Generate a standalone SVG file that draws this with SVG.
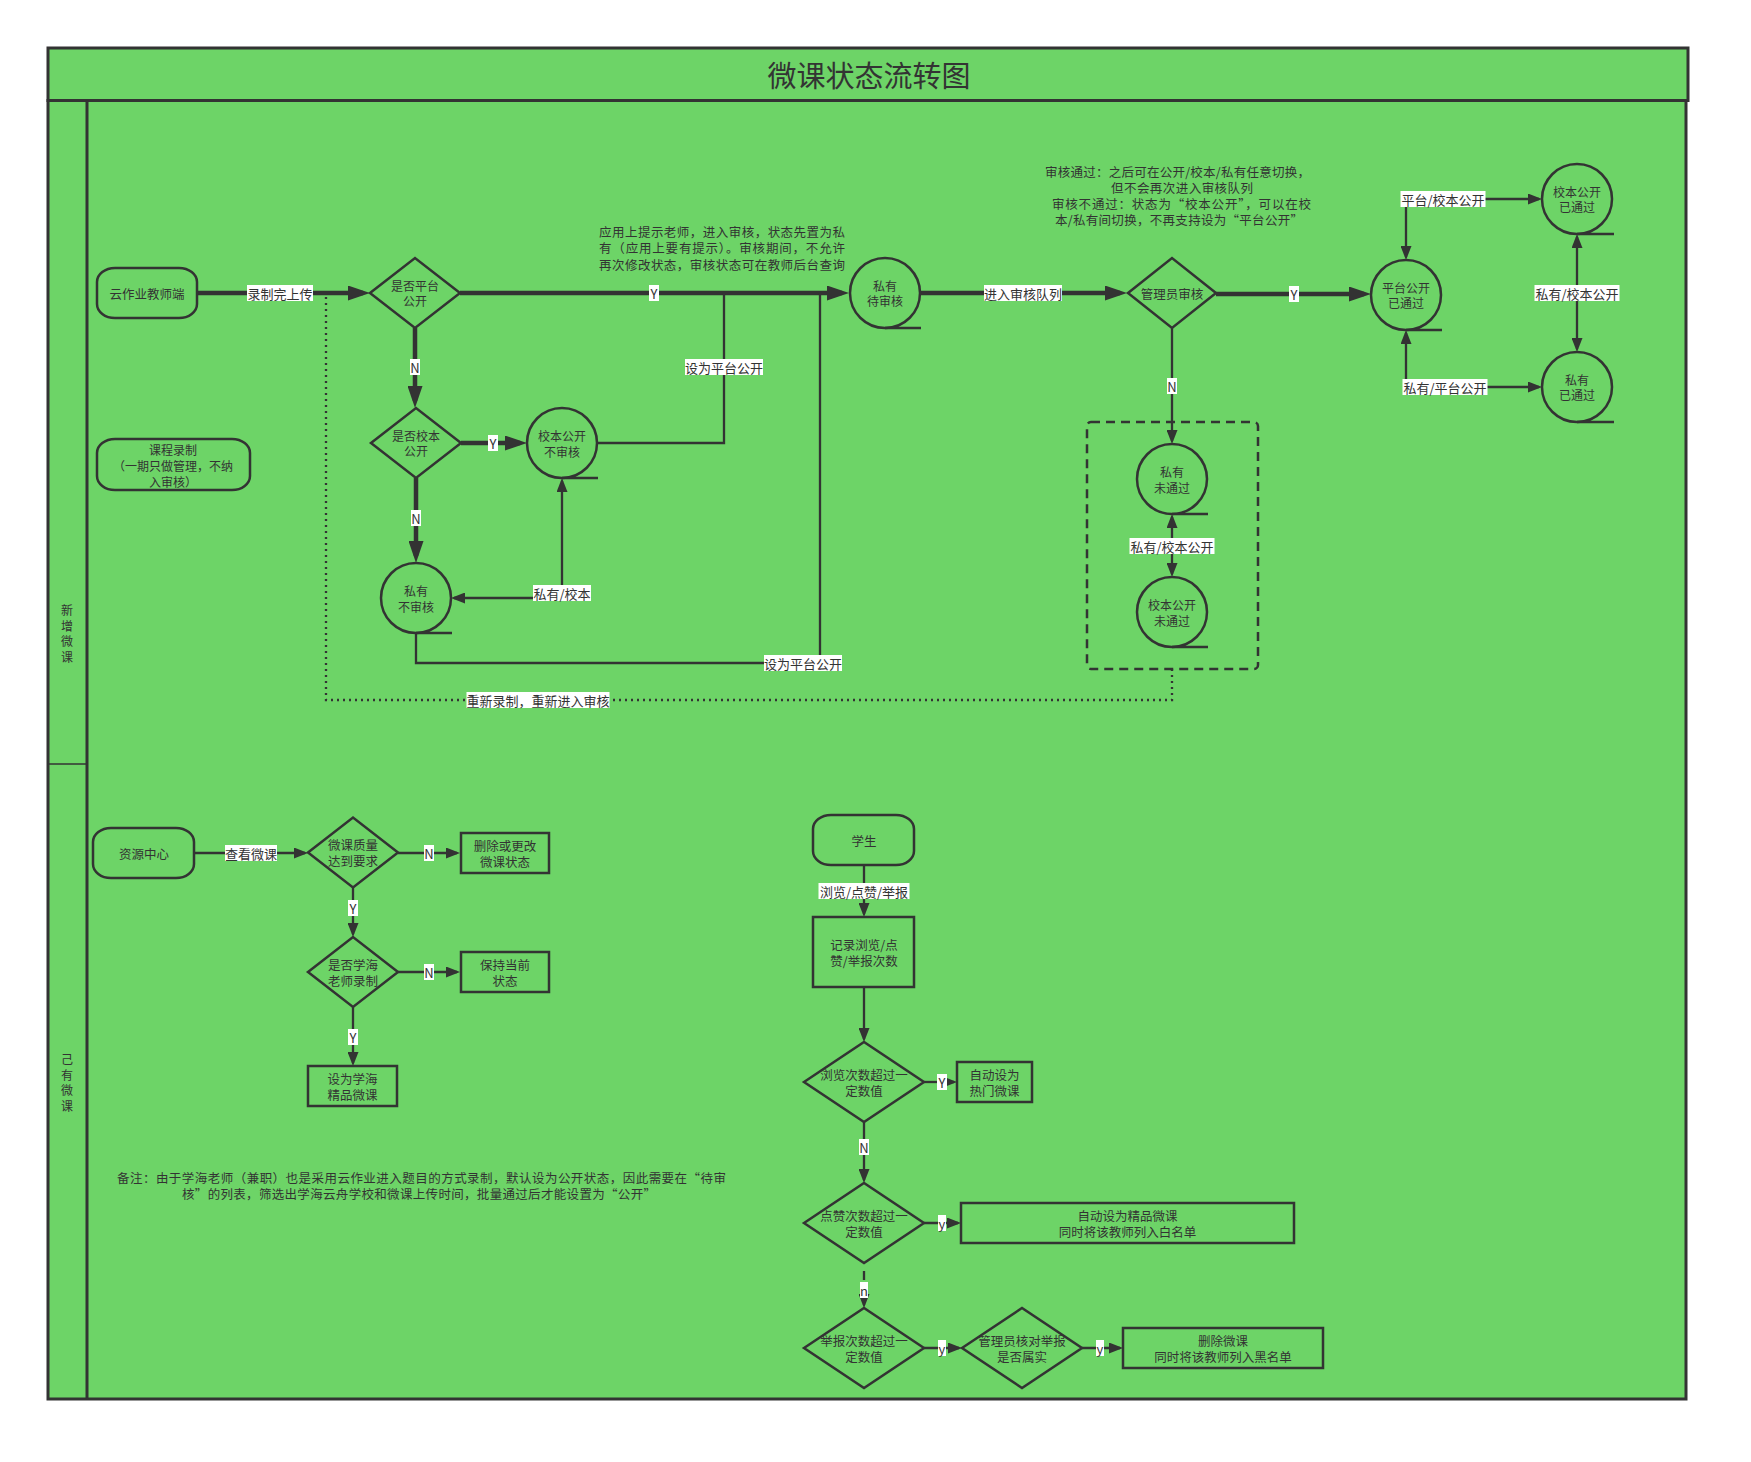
<svg xmlns="http://www.w3.org/2000/svg" width="1751" height="1462" viewBox="0 0 1751 1462">
<style>
.t{font-family:"Noto Sans CJK SC","Noto Sans",sans-serif;font-size:12.5px;fill:#333;text-anchor:middle;dominant-baseline:central}
.sm{font-size:12px}
.lt{font-family:"Noto Sans CJK SC","Noto Sans",sans-serif;font-size:13px;fill:#333;text-anchor:middle;dominant-baseline:central}
.n{fill:none;stroke:#333;stroke-width:2.5}
.u{stroke:#333;stroke-width:2.5}
.c{fill:none;stroke:#333;stroke-width:2.3}
.k{fill:none;stroke:#333;stroke-width:4.5}
.lb{fill:#fff}
.ann{font-family:"Noto Sans CJK SC","Noto Sans",sans-serif;font-size:12.5px;fill:#333}
</style>
<defs>
<marker id="a" viewBox="0 0 14 11" markerWidth="14" markerHeight="11" refX="11" refY="5.5" markerUnits="userSpaceOnUse" orient="auto-start-reverse"><path d="M0,0 L14,5.5 L0,11 Z" fill="#333"/></marker>
<marker id="A" viewBox="0 0 22 15" markerWidth="22" markerHeight="15" refX="15" refY="7.5" markerUnits="userSpaceOnUse" orient="auto-start-reverse"><path d="M0,0 L22,7.5 L0,15 Z" fill="#333"/></marker>
</defs>
<rect width="1751" height="1462" fill="#fff"/>
<g id="frame">
<rect x="48" y="100.5" width="1638" height="1298.5" fill="#6dd467" stroke="#333" stroke-width="3"/>
<rect x="48" y="48" width="1640" height="52.5" fill="#6dd467" stroke="#333" stroke-width="3"/>
<text x="869" y="73.5" class="t" style="font-size:29px">微课状态流转图</text>
<line x1="87" y1="100.5" x2="87" y2="1399" stroke="#333" stroke-width="3"/>
<line x1="48" y1="764" x2="87" y2="764" stroke="#333" stroke-width="1.5"/>
<text class="t sm" x="67"><tspan x="67" y="609">新</tspan><tspan x="67" y="624.5">增</tspan><tspan x="67" y="640">微</tspan><tspan x="67" y="655.5">课</tspan></text>
<text class="t sm" x="67"><tspan x="67" y="1058">己</tspan><tspan x="67" y="1073.5">有</tspan><tspan x="67" y="1089">微</tspan><tspan x="67" y="1104.5">课</tspan></text>
</g>

<g id="connectors">
<path class="k" d="M197,293 H363" marker-end="url(#A)"/>
<path class="k" d="M460,293 H842" marker-end="url(#A)"/>
<path class="k" d="M415,328 V401" marker-end="url(#A)"/>
<path class="k" d="M461,443 H520" marker-end="url(#A)"/>
<path class="k" d="M416,478 V556" marker-end="url(#A)"/>
<path class="c" d="M597,443 H724 V293"/>
<path class="c" d="M416,633 V663 H820 V293"/>
<path class="c" d="M454,598 H562 V481" marker-start="url(#a)" marker-end="url(#a)"/>
<path class="k" d="M920,293 H1120" marker-end="url(#A)"/>
<path class="k" d="M1216,294 H1364" marker-end="url(#A)"/>
<path class="c" d="M1172,328 V441" marker-end="url(#a)"/>
<path class="c" d="M1172,517 V574" marker-start="url(#a)" marker-end="url(#a)"/>
<path class="c" d="M1406,257 V199 H1539" marker-start="url(#a)" marker-end="url(#a)"/>
<path class="c" d="M1406,333 V387 H1539" marker-start="url(#a)" marker-end="url(#a)"/>
<path class="c" d="M1577,237 V349" marker-start="url(#a)" marker-end="url(#a)"/>
<path class="c" d="M1172,669 V700 H326 V296" stroke-dasharray="2,4" stroke-width="2"/>
<path class="c" d="M194,853 H305" marker-end="url(#a)"/>
<path class="c" d="M398,853 H457" marker-end="url(#a)"/>
<path class="c" d="M353,887 V934" marker-end="url(#a)"/>
<path class="c" d="M398,972 H457" marker-end="url(#a)"/>
<path class="c" d="M353,1007 V1063" marker-end="url(#a)"/>
<path class="c" d="M864,865 V914" marker-end="url(#a)"/>
<path class="c" d="M864,987 V1039" marker-end="url(#a)"/>
<path class="c" d="M924,1082 H954" marker-end="url(#a)"/>
<path class="c" d="M864,1122 V1180" marker-end="url(#a)"/>
<path class="c" d="M924,1223 H958" marker-end="url(#a)"/>
<path class="c" d="M864,1271 V1305" stroke-dasharray="9,6" marker-end="url(#a)"/>
<path class="c" d="M924,1348 H959" marker-end="url(#a)"/>
<path class="c" d="M1082,1348 H1120" marker-end="url(#a)"/>
<g id="labels">
<rect class="lb" x="247" y="285" width="66" height="16"/><text class="lt" x="280" y="293">录制完上传</text>
<rect class="lb" x="649" y="285" width="10" height="16"/><text class="lt" x="654" y="293">Y</text>
<rect class="lb" x="410" y="359" width="10" height="16"/><text class="lt" x="415" y="367">N</text>
<rect class="lb" x="488" y="435" width="10" height="16"/><text class="lt" x="493" y="443">Y</text>
<rect class="lb" x="411" y="510" width="10" height="16"/><text class="lt" x="416" y="518">N</text>
<rect class="lb" x="685" y="359" width="78" height="16"/><text class="lt" x="724" y="367">设为平台公开</text>
<rect class="lb" x="764" y="655" width="78" height="16"/><text class="lt" x="803" y="663">设为平台公开</text>
<rect class="lb" x="533" y="585" width="58" height="16"/><text class="lt" x="562" y="593">私有/校本</text>
<rect class="lb" x="984" y="285" width="78" height="16"/><text class="lt" x="1023" y="293">进入审核队列</text>
<rect class="lb" x="1289" y="286" width="10" height="16"/><text class="lt" x="1294" y="294">Y</text>
<rect class="lb" x="1167" y="378" width="10" height="16"/><text class="lt" x="1172" y="386">N</text>
<rect class="lb" x="1129.5" y="538" width="85" height="16"/><text class="lt" x="1172" y="546">私有/校本公开</text>
<rect class="lb" x="1400.5" y="191" width="85" height="16"/><text class="lt" x="1443" y="199">平台/校本公开</text>
<rect class="lb" x="1402.5" y="379" width="85" height="16"/><text class="lt" x="1445" y="387">私有/平台公开</text>
<rect class="lb" x="1534.5" y="285" width="85" height="16"/><text class="lt" x="1577" y="293">私有/校本公开</text>
<rect class="lb" x="466.5" y="692" width="143" height="16"/><text class="lt" x="538" y="700">重新录制，重新进入审核</text>
<rect class="lb" x="225" y="845" width="52" height="16"/><text class="lt" x="251" y="853">查看微课</text>
<rect class="lb" x="424" y="845" width="10" height="16"/><text class="lt" x="429" y="853">N</text>
<rect class="lb" x="348" y="900" width="10" height="16"/><text class="lt" x="353" y="908">Y</text>
<rect class="lb" x="424" y="964" width="10" height="16"/><text class="lt" x="429" y="972">N</text>
<rect class="lb" x="348" y="1029" width="10" height="16"/><text class="lt" x="353" y="1037">Y</text>
<rect class="lb" x="818.5" y="883" width="91" height="16"/><text class="lt" x="864" y="891">浏览/点赞/举报</text>
<rect class="lb" x="937" y="1074" width="10" height="16"/><text class="lt" x="942" y="1082">Y</text>
<rect class="lb" x="859" y="1139" width="10" height="16"/><text class="lt" x="864" y="1147">N</text>
<rect class="lb" x="938" y="1215" width="8" height="16"/><text class="lt" x="942" y="1223">y</text>
<rect class="lb" x="860" y="1282" width="8" height="16"/><text class="lt" x="864" y="1290">n</text>
<rect class="lb" x="938" y="1340" width="8" height="16"/><text class="lt" x="942" y="1348">y</text>
<rect class="lb" x="1096" y="1340" width="8" height="16"/><text class="lt" x="1100" y="1348">y</text>
</g>
</g>

<g id="n-teacher"><rect class="n" x="97" y="268" width="100" height="50" rx="18" ry="14"/><text class="t" x="147" y="293">云作业教师端</text></g>
<g id="n-platform"><polygon class="n" points="370,293 415,258 460,293 415,328"/><text class="t sm" x="415" y="285">是否平台</text><text class="t sm" x="415" y="300.5">公开</text></g>
<g id="n-school"><polygon class="n" points="371,443 416,408 461,443 416,478"/><text class="t sm" x="416" y="435">是否校本</text><text class="t sm" x="416" y="450.5">公开</text></g>
<g id="n-school-open"><circle class="n" cx="562" cy="443" r="35"/><line class="u" x1="562" y1="478" x2="598" y2="478"/><text class="t sm" x="562" y="435">校本公开</text><text class="t sm" x="562" y="451">不审核</text></g>
<g id="n-private-noreview"><circle class="n" cx="416" cy="598" r="35"/><line class="u" x1="416" y1="633" x2="452" y2="633"/><text class="t sm" x="416" y="590">私有</text><text class="t sm" x="416" y="606">不审核</text></g>
<g id="n-private-pending"><circle class="n" cx="885" cy="293" r="35"/><line class="u" x1="885" y1="328" x2="921" y2="328"/><text class="t sm" x="885" y="285">私有</text><text class="t sm" x="885" y="300">待审核</text></g>
<g id="n-admin"><polygon class="n" points="1128,293 1172,258 1216,293 1172,328"/><text class="t" x="1172" y="293">管理员审核</text></g>
<g id="n-platform-passed"><circle class="n" cx="1406" cy="295" r="35"/><line class="u" x1="1406" y1="330" x2="1442" y2="330"/><text class="t sm" x="1406" y="287">平台公开</text><text class="t sm" x="1406" y="302">已通过</text></g>
<g id="n-school-passed"><circle class="n" cx="1577" cy="199" r="35"/><line class="u" x1="1577" y1="234" x2="1614" y2="234"/><text class="t sm" x="1577" y="191">校本公开</text><text class="t sm" x="1577" y="206">已通过</text></g>
<g id="n-private-passed"><circle class="n" cx="1577" cy="387" r="35"/><line class="u" x1="1577" y1="422" x2="1614" y2="422"/><text class="t sm" x="1577" y="379">私有</text><text class="t sm" x="1577" y="394">已通过</text></g>
<g id="n-failed-group"><rect class="n" x="1087" y="422" width="171" height="247" rx="4" stroke-dasharray="9,6" stroke-width="2"/></g>
<g id="n-private-failed"><circle class="n" cx="1172" cy="479" r="35"/><line class="u" x1="1172" y1="514" x2="1208" y2="514"/><text class="t sm" x="1172" y="471">私有</text><text class="t sm" x="1172" y="487">未通过</text></g>
<g id="n-school-failed"><circle class="n" cx="1172" cy="612" r="35"/><line class="u" x1="1172" y1="647" x2="1208" y2="647"/><text class="t sm" x="1172" y="604">校本公开</text><text class="t sm" x="1172" y="620">未通过</text></g>
<g id="n-course"><rect class="n" x="97" y="439" width="153" height="51" rx="18" ry="14"/><text class="t sm" x="173" y="449">课程录制</text><text class="t sm" x="173" y="465">（一期只做管理，不纳</text><text class="t sm" x="173" y="481">入审核）</text></g>

<g id="note-1"><text class="ann" x="599" y="237" textLength="246" lengthAdjust="spacing">应用上提示老师，进入审核，状态先置为私</text><text class="ann" x="599" y="253" textLength="246" lengthAdjust="spacing">有（应用上要有提示）。审核期间，不允许</text><text class="ann" x="599" y="270" textLength="246" lengthAdjust="spacing">再次修改状态，审核状态可在教师后台查询</text></g>
<g id="note-2"><text class="ann" x="1045" y="177" textLength="265" lengthAdjust="spacing">审核通过：之后可在公开/校本/私有任意切换，</text><text class="ann" x="1111" y="193" textLength="142" lengthAdjust="spacing">但不会再次进入审核队列</text><text class="ann" x="1052" y="209" textLength="259" lengthAdjust="spacing">审核不通过：状态为“校本公开”，可以在校</text><text class="ann" x="1055" y="225" textLength="248" lengthAdjust="spacing">本/私有间切换，不再支持设为“平台公开”</text></g>

<g id="n-resource"><rect class="n" x="93" y="828" width="101" height="50" rx="18" ry="14"/><text class="t" x="144" y="853">资源中心</text></g>
<g id="n-quality"><polygon class="n" points="308,852.5 353,817.5 398,852.5 353,887.5"/><text class="t" x="353" y="844.5">微课质量</text><text class="t" x="353" y="860.5">达到要求</text></g>
<g id="n-delete-change"><rect class="n" x="461" y="833" width="88" height="40"/><text class="t" x="505" y="845">删除或更改</text><text class="t" x="505" y="861">微课状态</text></g>
<g id="n-xuehai"><polygon class="n" points="308,972 353,937 398,972 353,1007"/><text class="t" x="353" y="964">是否学海</text><text class="t" x="353" y="980">老师录制</text></g>
<g id="n-keep"><rect class="n" x="461" y="952" width="88" height="40"/><text class="t" x="505" y="964">保持当前</text><text class="t" x="505" y="980">状态</text></g>
<g id="n-fine"><rect class="n" x="308" y="1066" width="89" height="40"/><text class="t" x="352.5" y="1078">设为学海</text><text class="t" x="352.5" y="1094">精品微课</text></g>
<g id="note-3"><text class="ann" x="117" y="1183" textLength="609" lengthAdjust="spacing">备注：由于学海老师（兼职）也是采用云作业进入题目的方式录制，默认设为公开状态，因此需要在“待审</text><text class="ann" x="182" y="1199" textLength="474" lengthAdjust="spacing">核”的列表，筛选出学海云舟学校和微课上传时间，批量通过后才能设置为“公开”</text></g>

<g id="n-student"><rect class="n" x="813" y="815" width="101" height="50" rx="18" ry="14"/><text class="t" x="864" y="840">学生</text></g>
<g id="n-record"><rect class="n" x="813" y="917" width="101" height="70"/><text class="t" x="864" y="944">记录浏览/点</text><text class="t" x="864" y="960">赞/举报次数</text></g>
<g id="n-views"><polygon class="n" points="804,1082 864,1042 924,1082 864,1122"/><text class="t" x="864" y="1074">浏览次数超过一</text><text class="t" x="864" y="1090">定数值</text></g>
<g id="n-hot"><rect class="n" x="957" y="1062" width="75" height="40"/><text class="t" x="994.5" y="1074">自动设为</text><text class="t" x="994.5" y="1090">热门微课</text></g>
<g id="n-likes"><polygon class="n" points="804,1223 864,1183 924,1223 864,1263"/><text class="t" x="864" y="1215">点赞次数超过一</text><text class="t" x="864" y="1231">定数值</text></g>
<g id="n-whitelist"><rect class="n" x="961" y="1203" width="333" height="40"/><text class="t" x="1127.5" y="1215">自动设为精品微课</text><text class="t" x="1127.5" y="1231">同时将该教师列入白名单</text></g>
<g id="n-reports"><polygon class="n" points="804,1348 864,1308 924,1348 864,1388"/><text class="t" x="864" y="1340">举报次数超过一</text><text class="t" x="864" y="1356">定数值</text></g>
<g id="n-verify"><polygon class="n" points="962,1348 1022,1308 1082,1348 1022,1388"/><text class="t" x="1022" y="1340">管理员核对举报</text><text class="t" x="1022" y="1356">是否属实</text></g>
<g id="n-blacklist"><rect class="n" x="1123" y="1328" width="200" height="40"/><text class="t" x="1223" y="1340">删除微课</text><text class="t" x="1223" y="1356">同时将该教师列入黑名单</text></g>
</svg>
